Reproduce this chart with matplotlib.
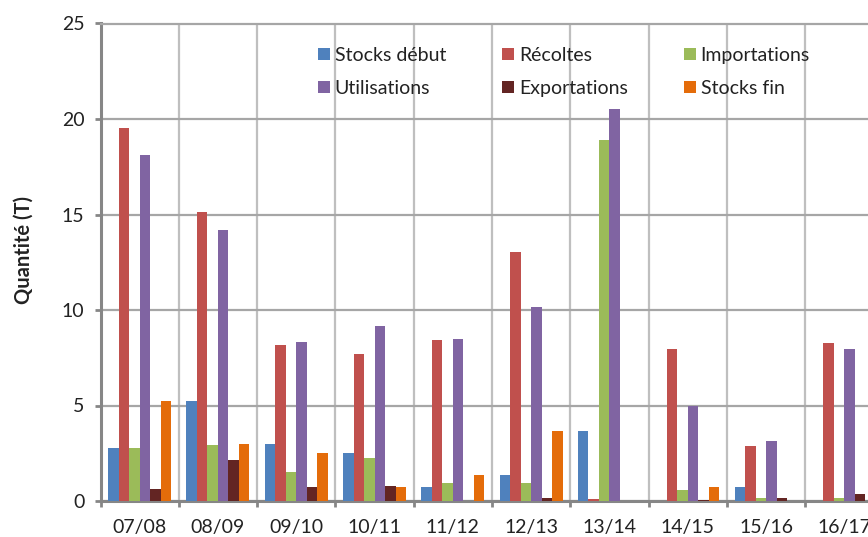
import matplotlib
matplotlib.use('Agg')
import matplotlib.pyplot as plt
import numpy as np

# saisons
saisons = ['07/08', '08/09', '09/10', '10/11', '11/12', '12/13', '13/14', '14/15', '15/16', '16/17']

# valeurs (T)
stocks_debut = [2.75, 5.25, 3.0, 2.5, 0.75, 1.35, 3.65, 0, 0.75, 0]
recoltes = [19.55, 15.15, 8.15, 7.7, 8.45, 13.05, 0.1, 7.95, 2.9, 8.25]
importations = [2.75, 2.95, 1.5, 2.25, 0.95, 0.95, 18.9, 0.6, 0.15, 0.15]
utilisations = [18.1, 14.2, 8.3, 9.15, 8.5, 10.15, 20.5, 4.95, 3.15, 7.95]
exportations = [0.65, 2.15, 0.75, 0.8, 0, 0.15, 0, 0.05, 0.15, 0.35]
stocks_fin = [5.25, 3.0, 2.5, 0.75, 1.35, 3.65, 0, 0.75, 0, 0]

noms = ['Stocks début', 'Récoltes', 'Importations', 'Utilisations', 'Exportations', 'Stocks fin']
series = [stocks_debut, recoltes, importations, utilisations, exportations, stocks_fin]
couleurs = ['#4F81BD', '#C0504D', '#9BBB59', '#8064A2', '#632523', '#E46C0A']

plt.rcParams['font.family'] = ['Lato', 'DejaVu Sans']

W, H = 868, 537
fig = plt.figure(figsize=(W / 100, H / 100), dpi=100)
ax = fig.add_axes([100.5 / W, (H - 501) / H, 783 / W, (501 - 23.5) / H])

x = np.arange(len(saisons))
w = 0.134
barres = []
for i, (vals, c) in enumerate(zip(series, couleurs)):
    b = ax.bar(x + (i - 2.5) * w, vals, w, color=c, label=noms[i], zorder=3)
    barres.append(b)

ax.set_xlim(-0.5, len(saisons) - 0.5)
ax.set_ylim(0, 25)
ax.set_yticks(np.arange(0, 26, 5))

# ticks majeurs aux frontières, étiquettes au centre
ax.set_xticks(np.arange(-0.5, len(saisons), 1))
ax.set_xticklabels([])
ax.set_xticks(x, minor=True)
ax.set_xticklabels(saisons, minor=True, fontsize=14, color='#222222')
ax.tick_params(axis='x', which='minor', length=0, pad=13)
ax.tick_params(axis='x', which='major', length=4.5, width=2, color='#868686', direction='out')
ax.tick_params(axis='y', length=4.5, width=2, color='#868686', labelsize=14, labelcolor='#222222', pad=7)

ax.grid(axis='y', color='#A6A6A6', linewidth=1.6, zorder=0)
ax.grid(axis='x', which='major', color='#BFBFBF', linewidth=1.6, zorder=0)
ax.set_axisbelow(True)

for s in ['left', 'bottom']:
    ax.spines[s].set_color('#868686')
    ax.spines[s].set_linewidth(2.2)
ax.spines['top'].set_color('#A6A6A6')
ax.spines['top'].set_linewidth(1.6)
ax.spines['right'].set_visible(False)

fig.text(24 / W, 1 - 250 / H, 'Quantité (T)', rotation=90, fontsize=14.5,
         fontweight='bold', ha='center', va='center', color='#222222')

# légende : remplissage par lignes
ordre = [0, 3, 1, 4, 2, 5]
fig.legend([barres[k] for k in ordre], [noms[k] for k in ordre], ncol=3,
           loc='upper left', bbox_to_anchor=(318 / W, 1 - 47 / H),
           frameon=False, fontsize=14, handlelength=0.6, handleheight=0.6,
           handletextpad=0.25, columnspacing=2.9, labelspacing=0.82,
           borderpad=0, borderaxespad=0, labelcolor='#222222')

fig.savefig('out.png', dpi=100)
